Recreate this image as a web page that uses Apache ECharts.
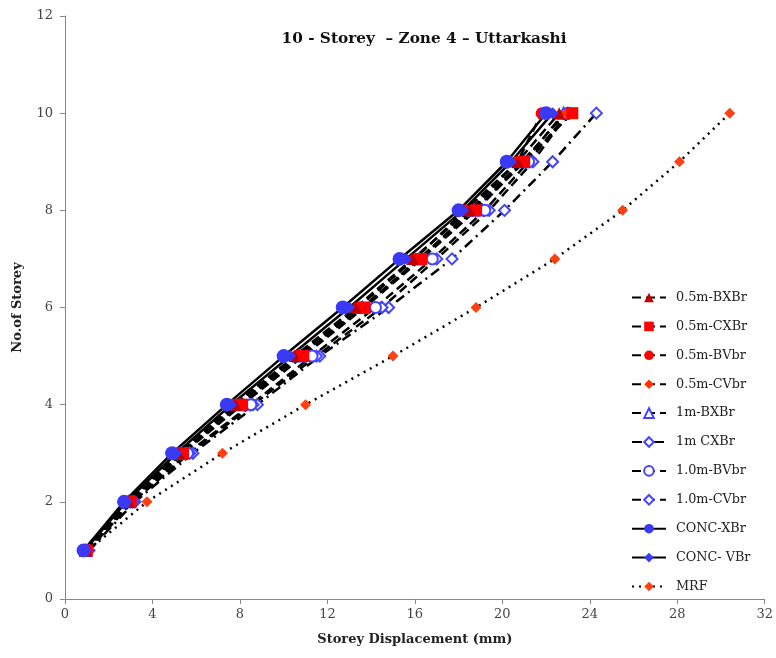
<!DOCTYPE html>
<html>
<head>
<meta charset="utf-8">
<script src="https://cdn.jsdelivr.net/npm/echarts@6/dist/echarts.min.js"></script>
<style>
  html, body { margin: 0; padding: 0; background: #fff; }
  #main { width: 776px; height: 658px; }
</style>
</head>
<body>
<div id="main"></div>
<script>
// storey levels 1..10
var storeys = [1, 2, 3, 4, 5, 6, 7, 8, 9, 10];
// displacement (mm) per storey
var bxbr05 = [0.95, 2.9, 5.2, 7.8, 10.5, 13.3, 15.9, 18.5, 20.7, 22.6];
var cxbr05 = [1.0, 3.0, 5.4, 8.1, 10.9, 13.7, 16.3, 18.8, 21.0, 23.2];
var bvbr05 = [0.95, 2.85, 5.2, 7.7, 10.6, 13.4, 16.0, 18.3, 20.7, 21.8];
var cvbr05 = [1.0, 2.9, 5.3, 7.9, 10.7, 13.6, 16.2, 18.6, 20.9, 22.9];
var bxbr1 = [0.95, 2.9, 5.3, 8.0, 10.7, 13.6, 16.2, 18.7, 21.0, 22.8];
var cxbr1 = [1.1, 3.2, 5.85, 8.8, 11.65, 14.8, 17.7, 20.1, 22.3, 24.3];
var bvbr1 = [1.0, 3.05, 5.6, 8.5, 11.3, 14.2, 16.8, 19.2, 21.2, 23.0];
var cvbr1 = [1.05, 3.1, 5.7, 8.6, 11.5, 14.5, 17.0, 19.4, 21.4, 23.0];
var concX = [0.85, 2.7, 4.9, 7.4, 10.0, 12.7, 15.3, 18.0, 20.2, 22.0];
var concV = [0.9, 2.8, 5.1, 7.6, 10.3, 13.0, 15.6, 18.2, 20.4, 22.3];
var mrf = [1.05, 3.75, 7.2, 11.0, 15.0, 18.8, 22.4, 25.5, 28.1, 30.4];

var font = 'DejaVu Serif';

function pairs(xs) {
  return xs.map(function (x, i) { return [x, storeys[i]]; });
}

//一条曲线
function mk(name, xs, symbol, size, color, dash, width) {
  return {
    name: name,
    type: 'line',
    data: pairs(xs),
    symbol: symbol,
    symbolSize: size,
    itemStyle: { color: color },
    lineStyle: { color: '#000', width: width || 2.5, type: dash, cap: 'butt' },
    emphasis: { disabled: true }
  };
}

var dash = [9, 5];
var dashDot = [10, 5, 2, 5];

var chart = echarts.init(document.getElementById('main'));
var option = {
  backgroundColor: '#fff',
  animation: false,
  textStyle: { fontFamily: font },
  title: {
    text: '10 - Storey  \u2013 Zone 4 \u2013 Uttarkashi',
    left: 419, top: 27, textAlign: 'center',
    textStyle: { fontFamily: font, fontSize: 15.3, fontWeight: 'bold', color: '#111' }
  },
  grid: { left: 65, right: 11, top: 16, bottom: 59, containLabel: false },
  legend: {
    orient: 'vertical',
    left: 626, top: 286,
    itemWidth: 34, itemHeight: 12,
    itemGap: 15.9,
    textStyle: { fontFamily: font, fontSize: 12.8, color: '#222', padding: [0, 0, 0, 5] },
    data: ['0.5m-BXBr', '0.5m-CXBr', '0.5m-BVbr', '0.5m-CVbr', '1m-BXBr', '1m CXBr',
      '1.0m-BVbr', '1.0m-CVbr', 'CONC-XBr', 'CONC- VBr', 'MRF']
  },
  xAxis: {
    type: 'value', min: 0, max: 32, interval: 4,
    name: 'Storey Displacement (mm)', nameLocation: 'middle', nameGap: 34,
    nameTextStyle: { fontFamily: font, fontSize: 13, fontWeight: 'bold', color: '#222' },
    axisLine: { show: true, lineStyle: { color: '#888', width: 1 } },
    axisTick: { show: true, length: 5, lineStyle: { color: '#888' } },
    axisLabel: { fontFamily: font, fontSize: 13, color: '#444', margin: 9 },
    splitLine: { show: false }
  },
  yAxis: {
    type: 'value', min: 0, max: 12, interval: 2,
    name: 'No.of Storey', nameLocation: 'middle', nameGap: 41,
    nameTextStyle: { fontFamily: font, fontSize: 13, fontWeight: 'bold', color: '#222' },
    axisLine: { show: true, lineStyle: { color: '#888', width: 1 } },
    axisTick: { show: true, length: 5, lineStyle: { color: '#888' } },
    axisLabel: { fontFamily: font, fontSize: 13, color: '#444', margin: 12 },
    splitLine: { show: false }
  },
  series: [
    mk('MRF', mrf, 'diamond', 11, '#FF4010', [2, 5], 2.5),
    mk('1m CXBr', cxbr1, 'emptyDiamond', 11, '#4444FF', dashDot),
    mk('1.0m-CVbr', cvbr1, 'emptyDiamond', 11, '#4444FF', dash),
    mk('1.0m-BVbr', bvbr1, 'emptyCircle', 11, '#4444FF', dash),
    mk('1m-BXBr', bxbr1, 'emptyTriangle', 11, '#4444FF', dash),
    mk('0.5m-CVbr', cvbr05, 'diamond', 10, '#FF3300', dash),
    mk('0.5m-CXBr', cxbr05, 'rect', 12, '#FF0000', dash),
    mk('0.5m-BVbr', bvbr05, 'circle', 12, '#FF0000', dash),
    mk('0.5m-BXBr', bxbr05, 'triangle', 12, '#C00000', dash),
    mk('CONC- VBr', concV, 'diamond', 12, '#3A3AF5', 'solid'),
    mk('CONC-XBr', concX, 'circle', 14, '#3A3AF5', 'solid')
  ]
};
chart.setOption(option);
</script>
</body>
</html>
